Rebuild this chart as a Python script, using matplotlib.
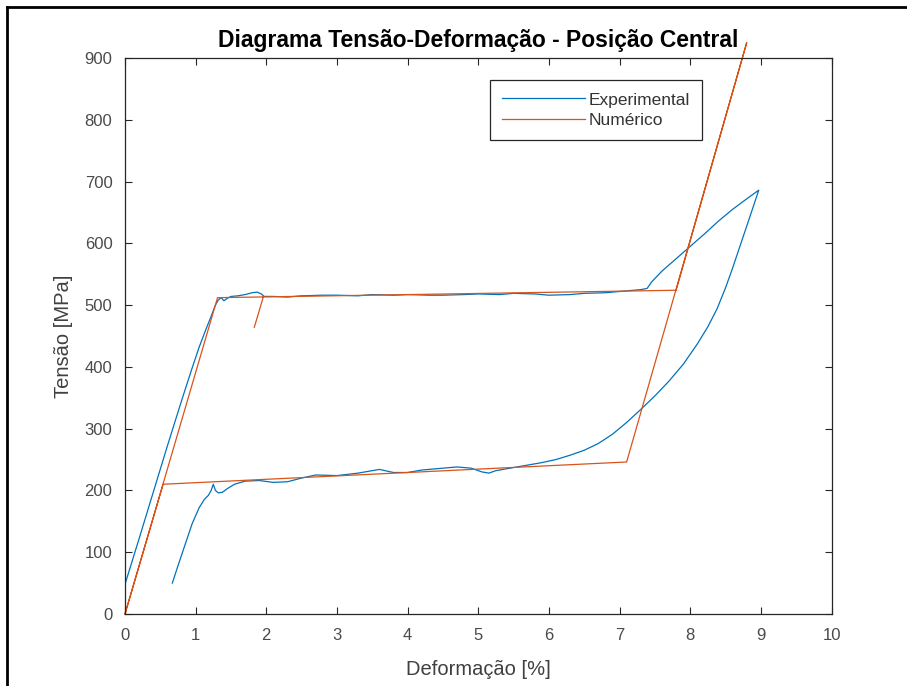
import numpy as np
import matplotlib
matplotlib.use('Agg')
import matplotlib.pyplot as plt
from matplotlib.lines import Line2D

# experimental curve: loading, upper plateau, hardening, unloading, lower plateau
exp_x = [0.00, 0.20, 0.40, 0.60, 0.80, 0.95, 1.05, 1.15, 1.22, 1.28, 1.32, 1.36, 1.40,
         1.45, 1.50, 1.60, 1.70, 1.80, 1.87, 1.93, 1.97, 2.10, 2.30, 2.50, 2.80, 3.00,
         3.30, 3.50, 3.80, 4.00, 4.30, 4.50, 4.80, 5.00, 5.30, 5.50, 5.80, 6.00, 6.30,
         6.50, 6.80, 7.00, 7.20, 7.30, 7.39, 7.45, 7.60, 7.80, 8.00, 8.20, 8.40, 8.60,
         8.80, 8.97, 8.90, 8.80, 8.70, 8.60, 8.50, 8.38, 8.25, 8.10, 7.90, 7.70, 7.50,
         7.29, 7.10, 6.90, 6.70, 6.50, 6.30, 6.10, 5.90, 5.70, 5.50, 5.25, 5.15, 5.05,
         4.90, 4.70, 4.50, 4.20, 4.00, 3.80, 3.60, 3.50, 3.30, 3.00, 2.70, 2.50, 2.30,
         2.10, 1.90, 1.70, 1.55, 1.45, 1.38, 1.32, 1.28, 1.25, 1.22, 1.18, 1.12, 1.05,
         0.95, 0.85, 0.75, 0.67]
exp_y = [48, 122, 197, 272, 345, 398, 432, 462, 482, 500, 508, 512, 507,
         511, 514, 515, 517, 520, 521, 518, 514, 514, 513, 515, 516, 516,
         515, 517, 516, 517, 516, 516, 517, 518, 517, 519, 518, 516, 517,
         519, 520, 522, 524, 525, 527, 537, 555, 575, 595, 615, 636, 655,
         672, 686, 662, 628, 594, 560, 528, 494, 465, 437, 404, 377, 353,
         330, 310, 291, 276, 265, 257, 250, 245, 241, 237, 232, 228, 230,
         236, 238, 236, 233, 229, 229, 234, 232, 228, 224, 225, 220, 214,
         213, 216, 215, 210, 203, 197, 196, 200, 210, 200, 192, 185, 172,
         146, 112, 78, 50]

# numerical model (nan splits off the short branch near 1.9 %)
num_x = [0.00, 1.31, 7.80, 8.80, 7.10, 0.54, 0.00, np.nan, 1.83, 1.96]
num_y = [0, 512, 524, 925, 246, 210, 0, np.nan, 464, 514]

plt.rcParams['font.family'] = ['Liberation Sans', 'DejaVu Sans']

fig = plt.figure(figsize=(9.07, 6.86), dpi=100)
ax = fig.add_axes([0.1378, 0.1050, 0.7790, 0.8105])

ax.plot(exp_x, exp_y, color='#0072BD', linewidth=0.9, label='Experimental')
ax.plot(num_x, num_y, color='#D95319', linewidth=0.9, label='Numérico', clip_on=False)

ax.set_xlim(0, 10)
ax.set_ylim(0, 900)
ax.set_xticks(range(0, 11))
ax.set_yticks(range(0, 901, 100))

ax.tick_params(direction='in', top=True, right=True, length=5, width=0.8,
               colors='#262626', labelsize=12, labelcolor='#4a4a4a')
ax.tick_params(axis='x', pad=10)
ax.tick_params(axis='y', pad=9)
for s in ax.spines.values():
    s.set_color('#262626')
    s.set_linewidth(0.9)

ax.set_xlabel('Deformação [%]', fontsize=14.5, color='#404040', labelpad=12)
ax.set_ylabel('Tensão [MPa]', fontsize=14.5, color='#404040', labelpad=8)
ax.set_title('Diagrama Tensão-Deformação - Posição Central', fontsize=16.5,
             fontweight='bold', color='black', pad=8)

leg = ax.legend(loc='upper right', bbox_to_anchor=(0.817, 0.960), borderaxespad=0,
                fontsize=12.5, fancybox=False, edgecolor='#262626', framealpha=1,
                handlelength=4.8, handletextpad=0.2, borderpad=0.7, labelspacing=0.3)
leg.get_frame().set_linewidth(0.9)
for t in leg.get_texts():
    t.set_color('#333333')

# outer frame lines along the left and top edge
fig.add_artist(Line2D([7 / 907, 7 / 907], [0, 1 - 7 / 686], transform=fig.transFigure,
                      color='black', linewidth=2))
fig.add_artist(Line2D([7 / 907, 1], [1 - 7 / 686, 1 - 7 / 686], transform=fig.transFigure,
                      color='black', linewidth=2))

fig.savefig('out.png', dpi=100)
